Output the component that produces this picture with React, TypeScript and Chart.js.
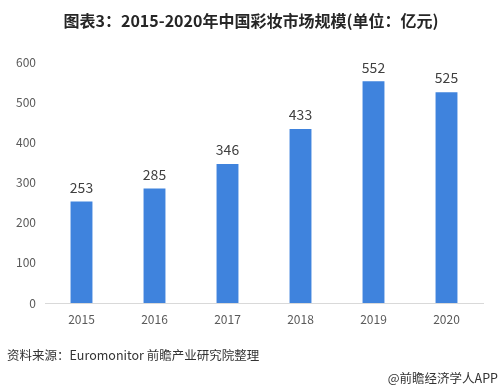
import React, { useEffect, useRef } from "react";
import { Chart, registerables } from "chart.js";

Chart.register(...registerables);

const titleText = "图表3：2015-2020年中国彩妆市场规模(单位：亿元)";
const sourceText = "资料来源：Euromonitor 前瞻产业研究院整理";
const brandText = "@前瞻经济学人APP";
const years = ["2015", "2016", "2017", "2018", "2019", "2020"];
const marketSize = [253, 285, 346, 433, 552, 525];
const yTicks = [0, 100, 200, 300, 400, 500, 600];

const FONT = "'Noto Sans CJK SC', 'Microsoft YaHei', sans-serif";

const textPlugin = {
  id: "texts",
  afterDraw(chart: any) {
    const ctx = chart.ctx;
    ctx.save();
    // title
    ctx.fillStyle = "#262626";
    ctx.font = `bold 16px ${FONT}`;
    ctx.textAlign = "center";
    ctx.textBaseline = "middle";
    ctx.fillText(titleText, 251, 21);
    // data labels
    const meta = chart.getDatasetMeta(0);
    ctx.font = `14px ${FONT}`;
    ctx.fillStyle = "#404040";
    ctx.textBaseline = "bottom";
    meta.data.forEach((bar: any, i: number) => {
      ctx.fillText(String(marketSize[i]), bar.x, bar.y - 7);
    });
    // footer
    ctx.font = `12.5px ${FONT}`;
    ctx.fillStyle = "#333333";
    ctx.textAlign = "left";
    ctx.textBaseline = "middle";
    ctx.fillText(sourceText, 7, 355);
    ctx.textAlign = "right";
    ctx.fillText(brandText, 498, 378);
    ctx.restore();
  },
};

export default function App() {
  const ref = useRef<HTMLCanvasElement>(null);
  useEffect(() => {
    if (!ref.current) return;
    const chart = new Chart(ref.current, {
      type: "bar",
      data: {
        labels: years,
        datasets: [
          {
            data: marketSize,
            backgroundColor: "#3f83dd",
            categoryPercentage: 1,
            barPercentage: 0.3,
          },
        ],
      },
      options: {
        animation: false,
        responsive: false,
        maintainAspectRatio: false,
        layout: { padding: { top: 62, left: 0, right: 20, bottom: 0 } },
        plugins: {
          legend: { display: false },
          title: { display: false },
          tooltip: { enabled: false },
        },
        scales: {
          x: {
            grid: { display: false, drawTicks: false },
            border: { display: true, color: "#d9d9d9" },
            ticks: { color: "#595959", font: { size: 12, family: FONT }, padding: 9 },
            afterFit: (s: any) => {
              s.height = 88;
            },
          },
          y: {
            min: 0,
            max: 600,
            afterBuildTicks: (s: any) => {
              s.ticks = yTicks.map((v) => ({ value: v }));
            },
            grid: { display: false, drawTicks: false },
            border: { display: false },
            ticks: { color: "#595959", font: { size: 12, family: FONT }, padding: 9 },
            afterFit: (s: any) => {
              s.width = 45;
            },
          },
        },
      },
      plugins: [textPlugin],
    });
    return () => chart.destroy();
  }, []);
  return (
    <div style={{ position: "absolute", left: 0, top: 0, width: 503, height: 391, background: "#fff" }}>
      <canvas ref={ref} width={503} height={391} style={{ width: 503, height: 391 }} />
    </div>
  );
}
